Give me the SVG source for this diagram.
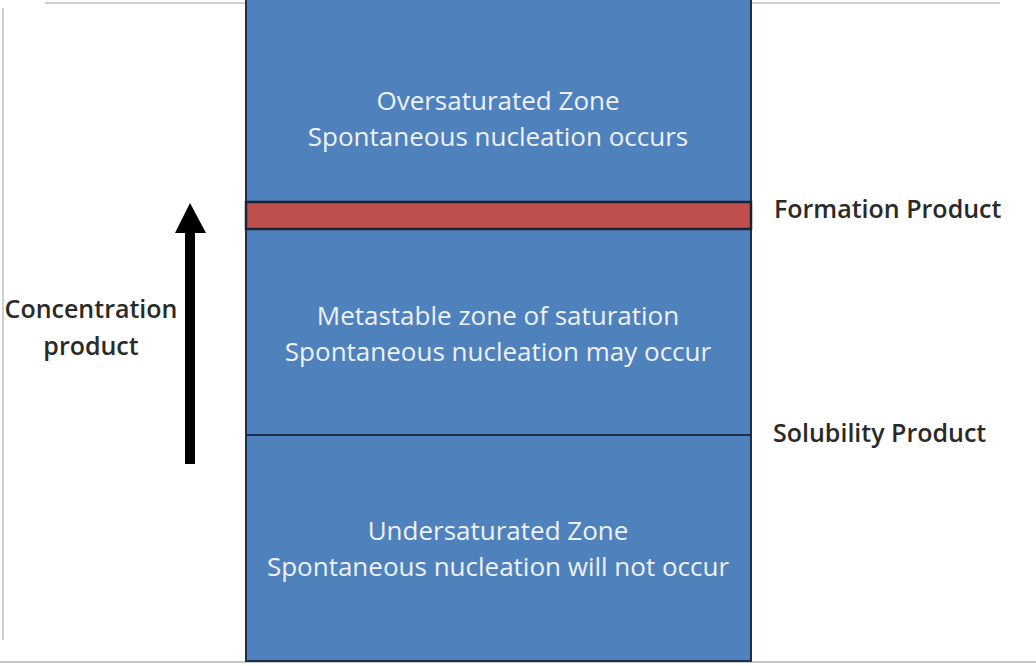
<svg xmlns="http://www.w3.org/2000/svg" width="1036" height="666" viewBox="0 0 1036 666">
<style>
.zone{fill:#4f81bd;}
.zt{font-family:"Open Sans",Lato,sans-serif;font-size:26px;fill:#eef2f8;text-anchor:middle;}
.lbl{font-family:"Open Sans",Lato,sans-serif;font-size:25px;fill:#2a2a2a;font-weight:600;}
.frame{stroke:#cfcfcf;stroke-width:2;fill:none;}
</style>
<rect x="0" y="0" width="1036" height="666" fill="#ffffff"/>
<g id="frame">
<line class="frame" x1="45" y1="3" x2="1000" y2="3"/>
<line class="frame" x1="3" y1="8" x2="3" y2="640"/>
<line x1="0" y1="662" x2="1036" y2="662" stroke="#c8c8c8" stroke-width="2"/>
</g>
<g id="column">
<rect class="zone" x="246" y="-2" width="505" height="663" stroke="#1c2f4d" stroke-width="2"/>
</g>
<g id="formation-band">
<rect x="246" y="202" width="505" height="27" fill="#c0504d" stroke="#1c2236" stroke-width="2.5"/>
</g>
<g id="solubility-line">
<line x1="246" y1="435" x2="751" y2="435" stroke="#1c2f4d" stroke-width="2"/>
</g>
<g id="zone-over">
<text class="zt" x="498" y="110">Oversaturated Zone</text>
<text class="zt" x="498" y="146">Spontaneous nucleation occurs</text>
</g>
<g id="zone-meta">
<text class="zt" x="498" y="325">Metastable zone of saturation</text>
<text class="zt" x="498" y="361">Spontaneous nucleation may occur</text>
</g>
<g id="zone-under">
<text class="zt" x="498" y="540">Undersaturated Zone</text>
<text class="zt" x="498" y="576">Spontaneous nucleation will not occur</text>
</g>
<g id="label-formation">
<text class="lbl" x="774" y="218">Formation Product</text>
</g>
<g id="label-solubility">
<text class="lbl" x="773" y="442">Solubility Product</text>
</g>
<g id="label-concentration">
<text class="lbl" x="91" y="318" text-anchor="middle" font-weight="400">Concentration</text>
<text class="lbl" x="91" y="355" text-anchor="middle" font-weight="400">product</text>
</g>
<g id="connectors">
<polygon points="190,203 206,233 175,233" fill="#000"/>
<rect x="185" y="230" width="10" height="234" fill="#000"/>
</g>
</svg>
